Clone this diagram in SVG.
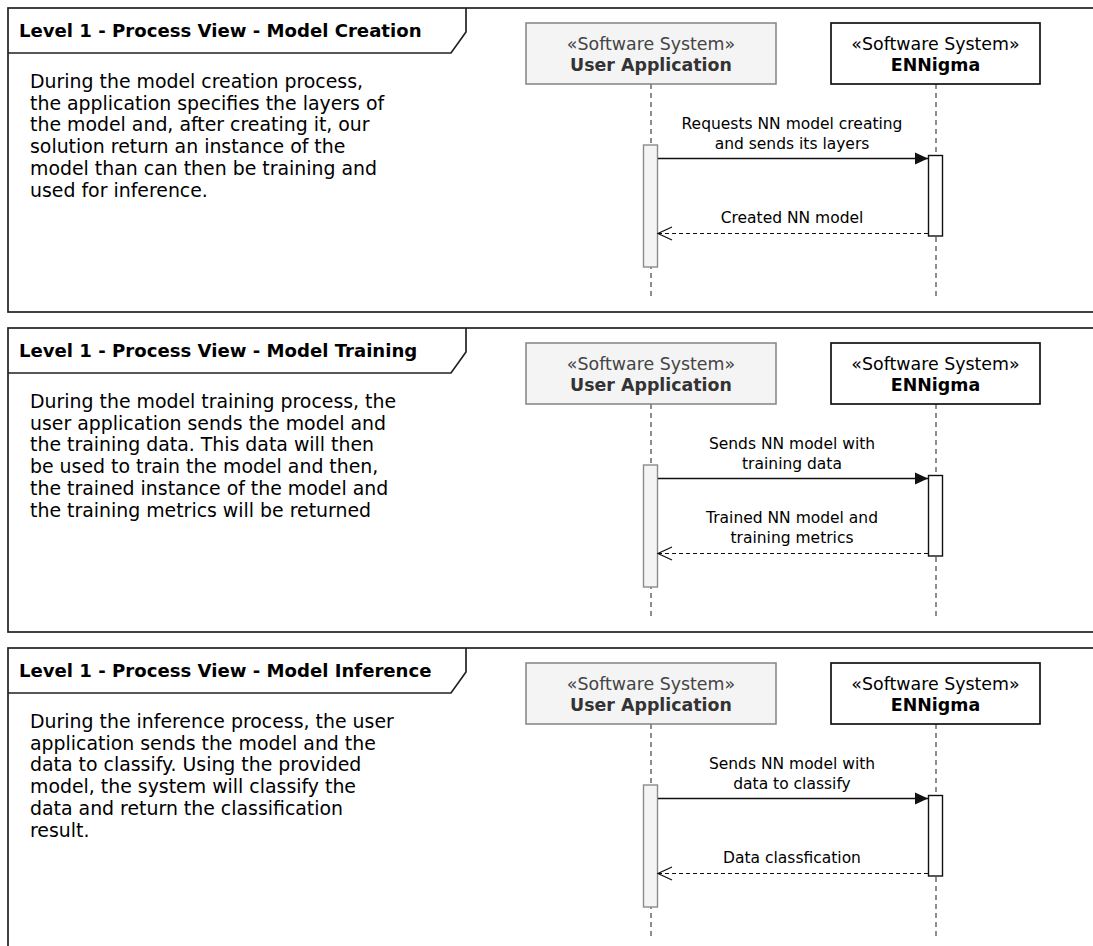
<svg xmlns="http://www.w3.org/2000/svg" width="1093" height="946" viewBox="0 0 1093 946">
  <defs>
    <style>
      text { font-family: "DejaVu Sans", Verdana, sans-serif; fill: #000; }
      .frame { fill: #fff; stroke: #222; stroke-width: 1.7; }
      .tab { fill: none; stroke: #222; stroke-width: 1.7; }
      .title { font-weight: bold; font-size: 18.1px; }
      .body { font-size: 18.9px; }
      .stereo { font-size: 17.4px; text-anchor: middle; }
      .name { font-size: 17.4px; font-weight: bold; text-anchor: middle; }
      .ext { fill: #f4f4f4; stroke: #8a8a8a; stroke-width: 1.6; }
      .ext-text { fill: #444; }
      .ext-name { fill: #333; }
      .sys { fill: #fff; stroke: #111; stroke-width: 1.7; }
      .life { stroke: #444; stroke-width: 1.2; stroke-dasharray: 5 4; fill: none; }
      .act-ext { fill: #f4f4f4; stroke: #8a8a8a; stroke-width: 1.4; }
      .act-sys { fill: #fff; stroke: #111; stroke-width: 1.4; }
      .msg { stroke: #111; stroke-width: 1.4; fill: none; }
      .ret { stroke: #111; stroke-width: 1.2; stroke-dasharray: 4 3; fill: none; }
      .lbl { font-size: 15.5px; text-anchor: middle; }
    </style>
    <marker id="solidHead" markerWidth="14" markerHeight="14" refX="13" refY="7" orient="auto" markerUnits="userSpaceOnUse">
      <path d="M0,1 L13,7 L0,13 Z" fill="#111"/>
    </marker>
    <marker id="openHead" markerWidth="16" markerHeight="16" refX="15" refY="8" orient="auto" markerUnits="userSpaceOnUse">
      <path d="M1,1.5 L15,8 L1,14.5" fill="none" stroke="#111" stroke-width="1.2"/>
    </marker>
  </defs>

  <rect width="1093" height="946" fill="#fff"/>

  <!-- Panel 1: model creation -->
  <g id="panel-creation">
    <rect class="frame" x="8" y="8" width="1100" height="304"/>
    <path class="tab" d="M8,53 H451 L466,32 V8"/>
    <text class="title" x="19" y="37">Level 1 - Process View - Model Creation</text>
    <text class="body" x="30" y="88">
      <tspan x="30" y="88">During the model creation process,</tspan>
      <tspan x="30" y="109.7">the application specifies the layers of</tspan>
      <tspan x="30" y="131.4">the model and, after creating it, our</tspan>
      <tspan x="30" y="153.1">solution return an instance of the</tspan>
      <tspan x="30" y="174.8">model than can then be training and</tspan>
      <tspan x="30" y="196.5">used for inference.</tspan>
    </text>
    <g id="c-user-app">
      <line class="life" x1="651" y1="84" x2="651" y2="297"/>
      <rect class="ext" x="526" y="23" width="250" height="61"/>
      <text class="stereo ext-text" x="651" y="50">«Software System»</text>
      <text class="name ext-name" x="651" y="71">User Application</text>
      <rect class="act-ext" x="643.5" y="145" width="14" height="122"/>
    </g>
    <g id="c-ennigma">
      <line class="life" x1="936" y1="84" x2="936" y2="297"/>
      <rect class="sys" x="831" y="23" width="209" height="61"/>
      <text class="stereo" x="935.5" y="50">«Software System»</text>
      <text class="name" x="935.5" y="71">ENNigma</text>
      <rect class="act-sys" x="928.5" y="155.5" width="14" height="80.5"/>
    </g>
    <g id="c-connectors">
      <line class="msg" x1="658" y1="158.5" x2="928" y2="158.5" marker-end="url(#solidHead)"/>
      <text class="lbl" x="792" y="129">Requests NN model creating</text>
      <text class="lbl" x="792" y="148.5">and sends its layers</text>
      <line class="ret" x1="928" y1="233.5" x2="658" y2="233.5" marker-end="url(#openHead)"/>
      <text class="lbl" x="792" y="223.3">Created NN model</text>
    </g>
  </g>

  <!-- Panel 2: model training -->
  <g id="panel-training" transform="translate(0,320)">
    <rect class="frame" x="8" y="8" width="1100" height="304"/>
    <path class="tab" d="M8,53 H451 L466,32 V8"/>
    <text class="title" x="19" y="37">Level 1 - Process View - Model Training</text>
    <text class="body" x="30" y="88">
      <tspan x="30" y="88">During the model training process, the</tspan>
      <tspan x="30" y="109.7">user application sends the model and</tspan>
      <tspan x="30" y="131.4">the training data. This data will then</tspan>
      <tspan x="30" y="153.1">be used to train the model and then,</tspan>
      <tspan x="30" y="174.8">the trained instance of the model and</tspan>
      <tspan x="30" y="196.5">the training metrics will be returned</tspan>
    </text>
    <g id="t-user-app">
      <line class="life" x1="651" y1="84" x2="651" y2="297"/>
      <rect class="ext" x="526" y="23" width="250" height="61"/>
      <text class="stereo ext-text" x="651" y="50">«Software System»</text>
      <text class="name ext-name" x="651" y="71">User Application</text>
      <rect class="act-ext" x="643.5" y="145" width="14" height="122"/>
    </g>
    <g id="t-ennigma">
      <line class="life" x1="936" y1="84" x2="936" y2="297"/>
      <rect class="sys" x="831" y="23" width="209" height="61"/>
      <text class="stereo" x="935.5" y="50">«Software System»</text>
      <text class="name" x="935.5" y="71">ENNigma</text>
      <rect class="act-sys" x="928.5" y="155.5" width="14" height="80.5"/>
    </g>
    <g id="t-connectors">
      <line class="msg" x1="658" y1="158.5" x2="928" y2="158.5" marker-end="url(#solidHead)"/>
      <text class="lbl" x="792" y="129">Sends NN model with</text>
      <text class="lbl" x="792" y="148.5">training data</text>
      <line class="ret" x1="928" y1="233.5" x2="658" y2="233.5" marker-end="url(#openHead)"/>
      <text class="lbl" x="792" y="203">Trained NN model and</text>
      <text class="lbl" x="792" y="223.3">training metrics</text>
    </g>
  </g>

  <!-- Panel 3: model inference -->
  <g id="panel-inference" transform="translate(0,640)">
    <rect class="frame" x="8" y="8" width="1100" height="400"/>
    <path class="tab" d="M8,53 H451 L466,32 V8"/>
    <text class="title" x="19" y="37">Level 1 - Process View - Model Inference</text>
    <text class="body" x="30" y="88">
      <tspan x="30" y="88">During the inference process, the user</tspan>
      <tspan x="30" y="109.7">application sends the model and the</tspan>
      <tspan x="30" y="131.4">data to classify. Using the provided</tspan>
      <tspan x="30" y="153.1">model, the system will classify the</tspan>
      <tspan x="30" y="174.8">data and return the classification</tspan>
      <tspan x="30" y="196.5">result.</tspan>
    </text>
    <g id="i-user-app">
      <line class="life" x1="651" y1="84" x2="651" y2="296"/>
      <rect class="ext" x="526" y="23" width="250" height="61"/>
      <text class="stereo ext-text" x="651" y="50">«Software System»</text>
      <text class="name ext-name" x="651" y="71">User Application</text>
      <rect class="act-ext" x="643.5" y="145" width="14" height="122"/>
    </g>
    <g id="i-ennigma">
      <line class="life" x1="936" y1="84" x2="936" y2="296"/>
      <rect class="sys" x="831" y="23" width="209" height="61"/>
      <text class="stereo" x="935.5" y="50">«Software System»</text>
      <text class="name" x="935.5" y="71">ENNigma</text>
      <rect class="act-sys" x="928.5" y="155.5" width="14" height="80.5"/>
    </g>
    <g id="i-connectors">
      <line class="msg" x1="658" y1="158.5" x2="928" y2="158.5" marker-end="url(#solidHead)"/>
      <text class="lbl" x="792" y="129">Sends NN model with</text>
      <text class="lbl" x="792" y="148.5">data to classify</text>
      <line class="ret" x1="928" y1="233.5" x2="658" y2="233.5" marker-end="url(#openHead)"/>
      <text class="lbl" x="792" y="223.3">Data classfication</text>
    </g>
  </g>
</svg>
